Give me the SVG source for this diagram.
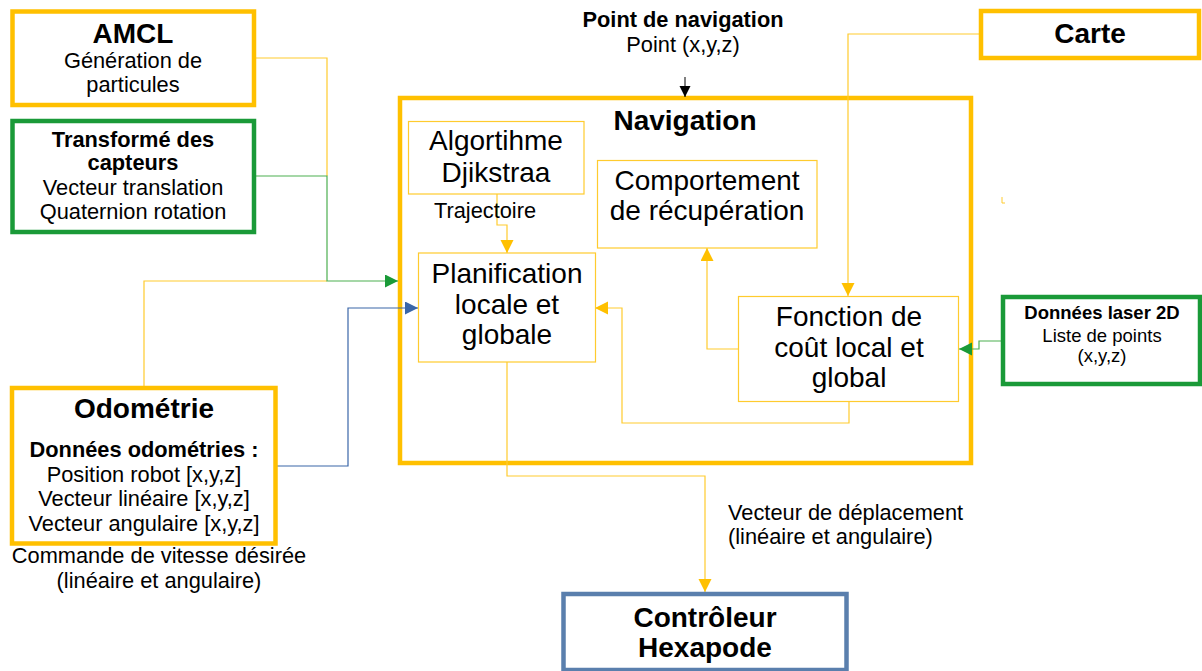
<svg xmlns="http://www.w3.org/2000/svg" width="1202" height="671" viewBox="0 0 1202 671">
<style>
text{font-family:"Liberation Sans",Arial,sans-serif;fill:#000;text-anchor:middle}
.b{font-weight:bold}
.t27{font-size:28px}
.t21{font-size:21.8px}
.t18{font-size:18.5px}
.thickY{fill:#fff;stroke:#ffc000;stroke-width:4.5}
.thickG{fill:#fff;stroke:#1a9a38;stroke-width:4.5}
.thickB{fill:#fff;stroke:#5a7fad;stroke-width:4.5}
.thin{fill:#fff;stroke:#ffcb2e;stroke-width:1.2}
.cy{fill:none;stroke:#ffcb2e;stroke-width:1.2}
.cg{fill:none;stroke:#4caf50;stroke-width:1.2}
.cb{fill:none;stroke:#3a66a8;stroke-width:1.2}
.ck{fill:none;stroke:#000;stroke-width:1}
</style>
<defs>
<marker id="aY" markerUnits="userSpaceOnUse" markerWidth="14" markerHeight="14" refX="13" refY="6.5" orient="auto"><path d="M0,0 L13,6.5 L0,13 z" fill="#ffc000"/></marker>
<marker id="aG" markerUnits="userSpaceOnUse" markerWidth="14" markerHeight="14" refX="13" refY="6.5" orient="auto"><path d="M0,0 L13,6.5 L0,13 z" fill="#1a9a38"/></marker>
<marker id="aB" markerUnits="userSpaceOnUse" markerWidth="14" markerHeight="14" refX="13" refY="6.5" orient="auto"><path d="M0,0 L13,6.5 L0,13 z" fill="#3a66a8"/></marker>
<marker id="aK" markerUnits="userSpaceOnUse" markerWidth="12" markerHeight="12" refX="11" refY="5.5" orient="auto"><path d="M0,0 L11,5.5 L0,11 z" fill="#000"/></marker>
</defs>
<rect width="1202" height="671" fill="#fff"/>

<g id="navigation">
<rect class="thickY" x="400" y="98" width="571" height="365"/>
<text class="b t27" x="685" y="130">Navigation</text>
</g>

<g id="connectors">
<polyline class="cy" points="256,58 327,58 327,176"/>
<polyline class="cy" points="144,386 144,281 327,281"/>
<polyline class="cg" points="256,176 327,176 327,281 398,281" marker-end="url(#aG)"/>
<polyline class="cb" points="277,466 348,466 348,308 418,308" marker-end="url(#aB)"/>
<polyline class="ck" points="685,77 685,97" marker-end="url(#aK)"/>
<polyline class="cy" points="497,194 497,225 507,225 507,253" marker-end="url(#aY)"/>
<polyline class="cy" points="979,34 848,34 848,296" marker-end="url(#aY)"/>
<polyline class="cy" points="738,349 707,349 707,248" marker-end="url(#aY)"/>
<polyline class="cy" points="849,402 849,423 622,423 622,308 595,308" marker-end="url(#aY)"/>
<polyline class="cy" points="507,362 507,476 705,476 705,592" marker-end="url(#aY)"/>
<polyline class="cg" points="1001,341 979,341 979,349 959,349" marker-end="url(#aG)"/>
<polyline fill="none" stroke="#ffcb2e" stroke-width="1" points="1002,197 1002,203 1005,203"/>
</g>

<g id="amcl">
<rect class="thickY" x="12.5" y="11.5" width="241.5" height="93.5"/>
<text class="b t27" x="133" y="43">AMCL</text>
<text class="t21" x="133" y="68">Génération de</text>
<text class="t21" x="133" y="92">particules</text>
</g>

<g id="transforme">
<rect class="thickG" x="12.5" y="121" width="241.5" height="111"/>
<text class="b t21" x="133" y="147">Transformé des</text>
<text class="b t21" x="133" y="170">capteurs</text>
<text class="t21" x="133" y="195">Vecteur translation</text>
<text class="t21" x="133" y="219">Quaternion rotation</text>
</g>

<g id="odometrie">
<rect class="thickY" x="12" y="388" width="263.5" height="155.5"/>
<text class="b t27" x="144" y="418">Odométrie</text>
<text class="b t21" x="144" y="457">Données odométries :</text>
<text class="t21" x="144" y="482">Position robot [x,y,z]</text>
<text class="t21" x="144" y="506">Vecteur linéaire [x,y,z]</text>
<text class="t21" x="144" y="531">Vecteur angulaire [x,y,z]</text>
<text class="t21" x="159" y="563">Commande de vitesse désirée</text>
<text class="t21" x="159" y="588">(linéaire et angulaire)</text>
</g>

<g id="point-navigation">
<text class="b t21" x="683" y="27">Point de navigation</text>
<text class="t21" x="683" y="52">Point (x,y,z)</text>
</g>

<g id="carte">
<rect class="thickY" x="981" y="11" width="218" height="47"/>
<text class="b t27" x="1090" y="43">Carte</text>
</g>

<g id="djikstra">
<rect class="thin" x="408.5" y="121.5" width="175.5" height="72.5"/>
<text class="t27" x="496" y="150">Algortihme</text>
<text class="t27" x="496" y="182">Djikstraa</text>
</g>
<g id="trajectoire-label">
<text class="t21" x="485" y="218">Trajectoire</text>
</g>

<g id="comportement">
<rect class="thin" x="597.5" y="160.5" width="219.5" height="87.5"/>
<text class="t27" x="707" y="190">Comportement</text>
<text class="t27" x="707" y="220">de récupération</text>
</g>

<g id="planification">
<rect class="thin" x="418.5" y="253" width="177" height="109"/>
<text class="t27" x="507" y="283">Planification</text>
<text class="t27" x="507" y="314">locale et</text>
<text class="t27" x="507" y="344">globale</text>
</g>

<g id="fonction">
<rect class="thin" x="738.5" y="296.5" width="220" height="105"/>
<text class="t27" x="849" y="326">Fonction de</text>
<text class="t27" x="849" y="357">coût local et</text>
<text class="t27" x="849" y="387">global</text>
</g>

<g id="laser">
<rect class="thickG" x="1003" y="297" width="197" height="87"/>
<text class="b t18" x="1102" y="319">Données laser 2D</text>
<text class="t18" x="1102" y="342">Liste de points</text>
<text class="t18" x="1102" y="362">(x,y,z)</text>
</g>

<g id="deplacement-label">
<text class="t21" x="728" y="520" style="text-anchor:start">Vecteur de déplacement</text>
<text class="t21" x="728" y="544" style="text-anchor:start">(linéaire et angulaire)</text>
</g>

<g id="controleur">
<rect class="thickB" x="563.5" y="594" width="283" height="76"/>
<text class="b t27" x="705" y="627">Contrôleur</text>
<text class="b t27" x="705" y="657">Hexapode</text>
</g>
</svg>
